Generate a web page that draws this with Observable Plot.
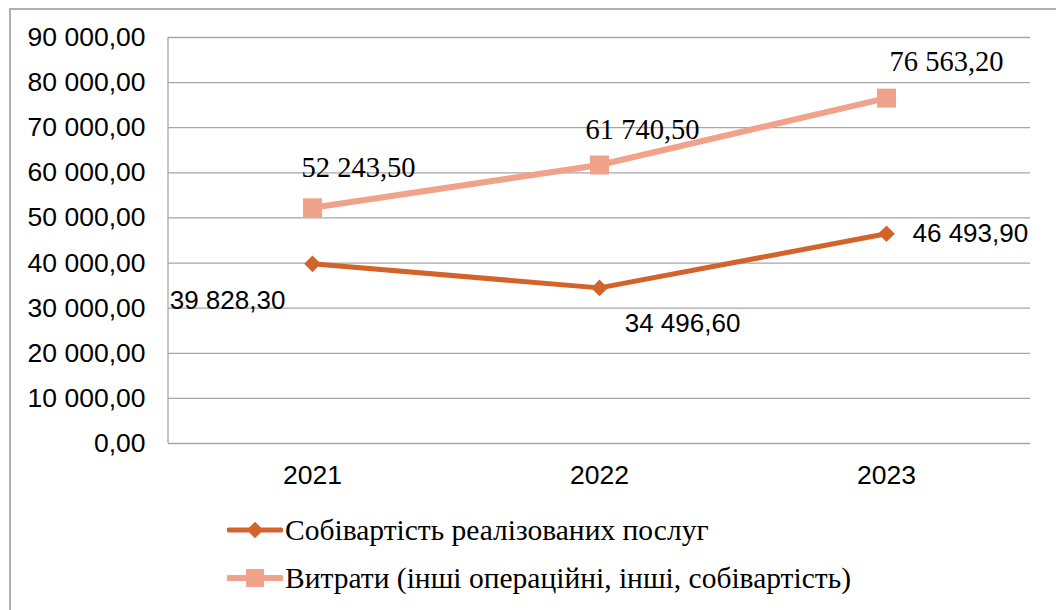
<!DOCTYPE html>
<html>
<head>
<meta charset="utf-8">
<script src="https://cdn.jsdelivr.net/npm/d3@7"></script>
<script src="https://cdn.jsdelivr.net/npm/@observablehq/plot@0.6"></script>
<style>
  html, body { margin: 0; padding: 0; background: #fff; width: 1056px; height: 610px; overflow: hidden; position: relative; }
  #frame { position: absolute; left: 9px; top: 8px; width: 1100px; height: 700px; border: 2px solid #b0b0b0; box-sizing: border-box; }
  #chart { position: absolute; left: 0; top: 0; }
  #legend { position: absolute; left: 0; top: 500px; width: 1056px; height: 110px; }
  .row { position: absolute; left: 227px; height: 40px; display: flex; align-items: center; font-family: "Liberation Serif", "Times New Roman", serif; font-size: 29.5px; color: #000; white-space: nowrap; }
  .row svg { margin-right: 2px; flex: none; }
</style>
</head>
<body>
<div id="frame"></div>
<div id="chart"></div>
<div id="legend"></div>
<script>
const years = ["2021", "2022", "2023"];
const costValues = [39828.30, 34496.60, 46493.90];
const expenseValues = [52243.50, 61740.50, 76563.20];
const seriesNames = ["Собівартість реалізованих послуг", "Витрати (інші операційні, інші, собівартість)"];
const yTicks = [0, 10000, 20000, 30000, 40000, 50000, 60000, 70000, 80000, 90000];
const colors = ["#D2632B", "#F0A28B"];

const fmt = v => d3.format(",.2f")(v).replace(/,/g, " ").replace(".", ",");

const cost = years.map((y, i) => ({year: y, value: costValues[i]}));
const expense = years.map((y, i) => ({year: y, value: expenseValues[i]}));

function lbl(data, i, opts) {
  return Plot.text([data[i]], {x: "year", y: "value", text: d => fmt(d.value), ...opts});
}

const sansLbl = {fontFamily: "Liberation Sans, Arial, sans-serif", fontSize: 26, fill: "#000"};
const serifLbl = {fontFamily: "Liberation Serif, Times New Roman, serif", fontSize: 28.5, fill: "#000"};

const chart = Plot.plot({
  width: 1056,
  height: 500,
  marginLeft: 168,
  marginRight: 26,
  marginTop: 37,
  marginBottom: 57,
  style: {fontFamily: "Liberation Sans, Arial, sans-serif", fontSize: "26.5px", color: "#000", background: "transparent", overflow: "visible"},
  x: {type: "point", domain: years, padding: 0.5, label: null, tickSize: 0, tickPadding: 22},
  y: {domain: [0, 90000], ticks: yTicks, tickFormat: fmt, label: null, tickSize: 0, tickPadding: 23},
  marks: [
    Plot.ruleY(yTicks, {stroke: "#a6a6a6", strokeWidth: 1.3}),
    Plot.line(expense, {x: "year", y: "value", stroke: colors[1], strokeWidth: 6}),
    Plot.dot(expense, {x: "year", y: "value", symbol: "square", r: 10.7, fill: colors[1], stroke: "none"}),
    Plot.line(cost, {x: "year", y: "value", stroke: colors[0], strokeWidth: 5}),
    Plot.dot(cost, {x: "year", y: "value", symbol: "diamond2", r: 7.5, fill: colors[0], stroke: "none"}),
    lbl(expense, 0, {...serifLbl, dx: 46, dy: -40}),
    lbl(expense, 1, {...serifLbl, dx: 43, dy: -35}),
    lbl(expense, 2, {...serifLbl, dx: 60, dy: -36}),
    lbl(cost, 0, {...sansLbl, dx: -85, dy: 37}),
    lbl(cost, 1, {...sansLbl, dx: 83, dy: 36}),
    lbl(cost, 2, {...sansLbl, dx: 26, dy: 0, textAnchor: "start"})
  ]
});
// left axis line
const svg = d3.select(chart);
svg.append("line").attr("x1", 168).attr("x2", 168).attr("y1", 37).attr("y2", 443)
  .attr("stroke", "#a6a6a6").attr("stroke-width", 1.3);
document.getElementById("chart").appendChild(chart);

// Legend
const legend = document.getElementById("legend");
seriesNames.forEach((name, i) => {
  const row = document.createElement("div");
  row.className = "row";
  row.style.top = (i === 0 ? 10 : 58) + "px";
  const s = d3.create("svg").attr("width", 56).attr("height", 40);
  s.append("line").attr("x1", 2).attr("x2", 54).attr("y1", 20).attr("y2", 20)
    .attr("stroke", colors[i]).attr("stroke-width", i === 0 ? 5 : 6).attr("stroke-linecap", "round");
  if (i === 0) {
    s.append("path").attr("d", d3.symbol(d3.symbolDiamond2, Math.PI * 7.5 * 7.5)()).attr("transform", "translate(28,20)").attr("fill", colors[i]);
  } else {
    s.append("rect").attr("x", 19).attr("y", 11).attr("width", 18).attr("height", 18).attr("fill", colors[i]);
  }
  row.appendChild(s.node());
  const t = document.createElement("span");
  t.textContent = name;
  row.appendChild(t);
  legend.appendChild(row);
});
</script>
</body>
</html>
